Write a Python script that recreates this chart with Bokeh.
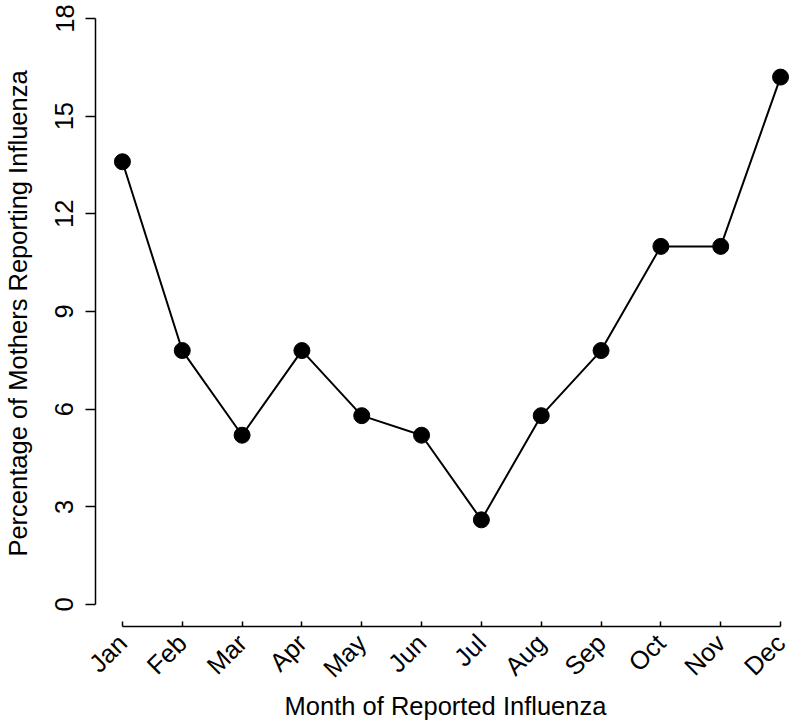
import math
from bokeh.plotting import figure
from bokeh.models import FixedTicker, Range1d, ColumnDataSource
from bokeh.embed import file_html
from bokeh.resources import INLINE

months = ["Jan", "Feb", "Mar", "Apr", "May", "Jun", "Jul", "Aug", "Sep", "Oct", "Nov", "Dec"]
month_index = [1, 2, 3, 4, 5, 6, 7, 8, 9, 10, 11, 12]
percent = [13.6, 7.8, 5.2, 7.8, 5.8, 5.2, 2.6, 5.8, 7.8, 11.0, 11.0, 16.2]
y_ticks = [0, 3, 6, 9, 12, 15, 18]

FONT = "Liberation Sans"
FS = "25.5px"

source = ColumnDataSource(dict(x=month_index, y=percent))

p = figure(width=795, height=726, output_backend="svg", toolbar_location=None,
           x_range=Range1d(0.55, 12.25), y_range=Range1d(-0.676, 18.553),
           min_border_left=93, min_border_right=0, min_border_top=0, min_border_bottom=100)
p.outline_line_color = None
p.xgrid.visible = False
p.ygrid.visible = False
p.background_fill_color = "white"
p.border_fill_color = "white"

p.line("x", "y", source=source, line_color="black", line_width=2)
p.scatter("x", "y", source=source, size=16, fill_color="black", line_color="black")

xa = p.xaxis[0]
xa.ticker = FixedTicker(ticks=month_index)
xa.major_label_overrides = {i: m for i, m in zip(month_index, months)}
xa.bounds = (1, 12)
xa.major_tick_in = 5
xa.major_tick_out = 0
xa.minor_tick_in = 0
xa.minor_tick_out = 0
xa.major_label_orientation = math.pi / 4
xa.major_label_standoff = 12
xa.major_label_text_font = FONT
xa.major_label_text_font_size = FS
xa.major_label_text_color = "black"
xa.axis_label = "Month of Reported Influenza"
xa.axis_label_text_font = FONT
xa.axis_label_text_font_size = FS
xa.axis_label_text_font_style = "normal"
xa.axis_label_text_color = "black"
xa.axis_label_standoff = -3
xa.axis_line_width = 1.5
xa.major_tick_line_width = 1.5

ya = p.yaxis[0]
ya.ticker = FixedTicker(ticks=y_ticks)
ya.bounds = (0, 18)
ya.major_tick_in = 0
ya.major_tick_out = 10
ya.minor_tick_in = 0
ya.minor_tick_out = 0
ya.major_label_orientation = "vertical"
ya.major_label_standoff = 12
ya.major_label_text_font = FONT
ya.major_label_text_font_size = FS
ya.major_label_text_color = "black"
ya.axis_label = "Percentage of Mothers Reporting Influenza"
ya.axis_label_text_font = FONT
ya.axis_label_text_font_size = FS
ya.axis_label_text_font_style = "normal"
ya.axis_label_text_color = "black"
ya.axis_label_standoff = 21
ya.axis_line_width = 1.5
ya.major_tick_line_width = 1.5

open("out.html", "w").write(file_html(p, INLINE))
